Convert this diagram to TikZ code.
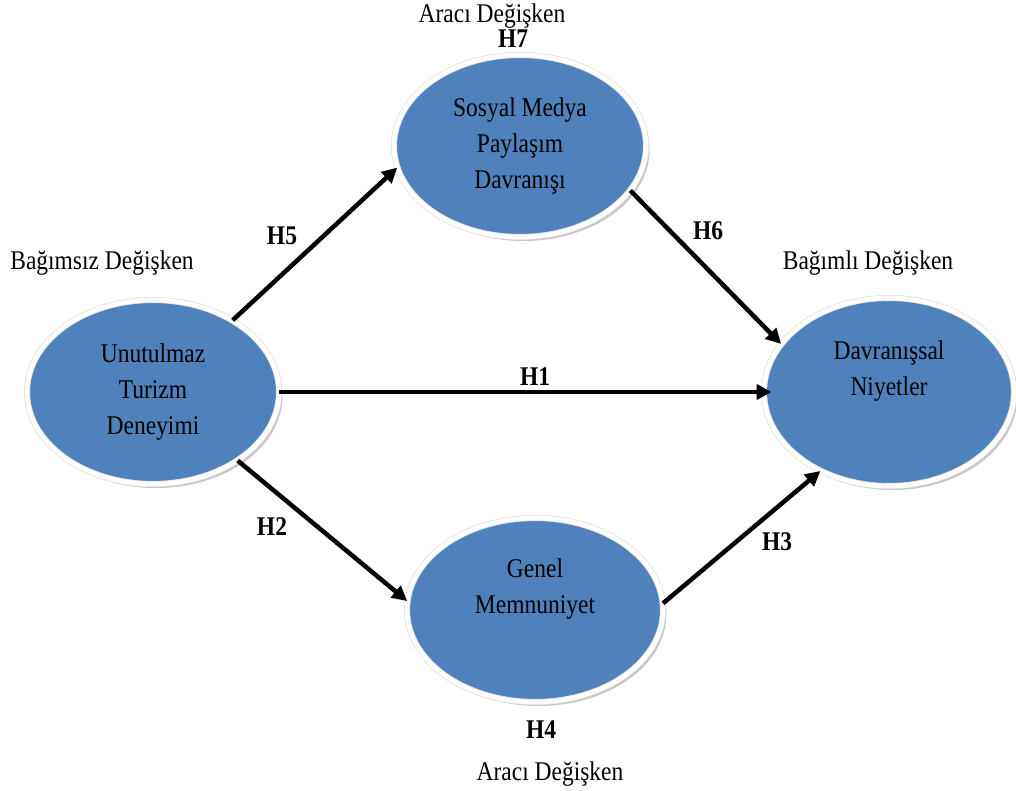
\documentclass[tikz,border=0pt]{standalone}
\usepackage{fontspec}
\setmainfont{Liberation Serif}[FakeStretch=0.87]
\usetikzlibrary{arrows.meta,shadows,shapes.geometric}
\definecolor{ovalblue}{HTML}{4F81BD}
\begin{document}
\begin{tikzpicture}[x=1pt,y=-1pt,
  oval/.style={ellipse, fill=ovalblue, draw=black!12, double=white, double distance=4.5pt, line width=0.8pt,
     minimum width=252pt, minimum height=182pt, inner sep=0pt, align=center,
     font=\fontsize{27}{36}\selectfont,
     drop shadow={shadow xshift=3.5pt, shadow yshift=-4pt, fill=black!40, opacity=0.55}},
  lbl/.style={font=\fontsize{27}{30}\selectfont, anchor=base, inner sep=0pt},
  hlbl/.style={font=\fontsize{27}{30}\selectfont\bfseries, anchor=base, inner sep=0pt},
  arr/.style={line width=4.5pt, -{Triangle[length=15pt,width=15pt]}}
]
\useasboundingbox (0,0) rectangle (1016,791);
\node[oval, minimum height=184pt] (U) at (153,392) {Unutulmaz\\Turizm\\Deneyimi};
\node[oval] (S) at (520,146) {Sosyal Medya\\Paylaşım\\Davranışı};
\node[oval, minimum width=250pt, minimum height=188pt] (D) at (889,392) {Davranışsal\\Niyetler\\\strut};
\node[oval, minimum width=256pt, minimum height=184pt] (G) at (535,610) {Genel\\Memnuniyet\\\strut};

\node[lbl] (tA) at (492,23) {Aracı Değişken};
\node[hlbl] (h7) at (513,48) {H7};
\node[lbl] (bA) at (550,780) {Aracı Değişken};
\node[hlbl] (h4) at (541,738) {H4};
\node[lbl] (bag) at (102,270) {Bağımsız Değişken};
\node[lbl] (bgl) at (868,270) {Bağımlı Değişken};

\draw[arr] (U.42) -- (S.190.6);
\draw[arr] (S.-22) -- (D.156);
\draw[arr] (U.east) -- ([xshift=8pt]D.west);
\draw[arr] (U.-39.4) -- (G.176.4);
\draw[arr] (G.3.2) -- (D.229.5);

\node[hlbl] (h5) at (282,245) {H5};
\node[hlbl] (h6) at (708,240) {H6};
\node[hlbl] (h1) at (535,385) {H1};
\node[hlbl] (h2) at (272,535) {H2};
\node[hlbl] (h3) at (777,550) {H3};
\end{tikzpicture}
\end{document}
